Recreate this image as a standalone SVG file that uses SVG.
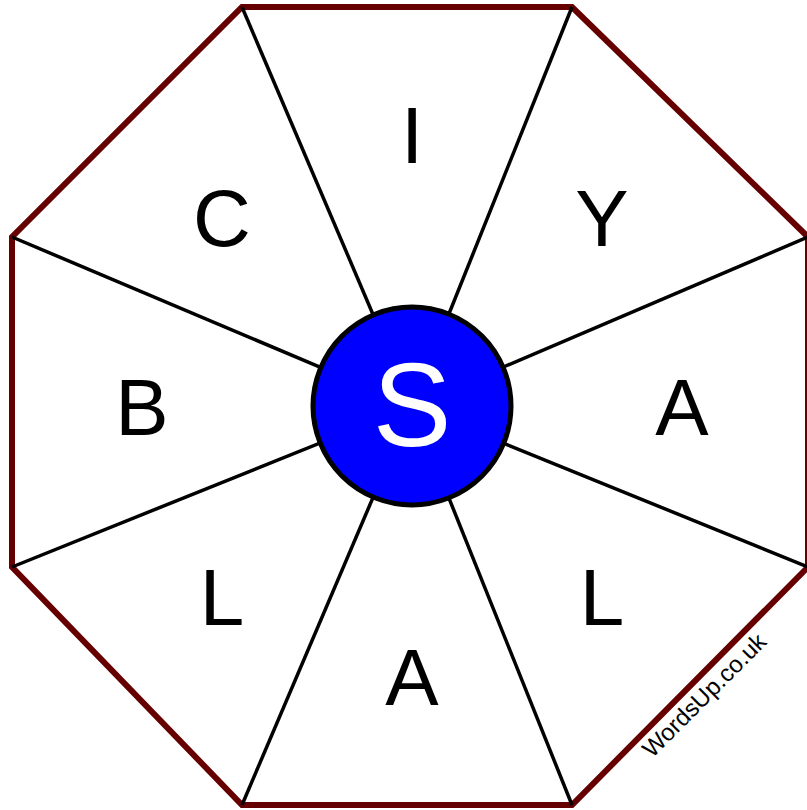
<svg xmlns="http://www.w3.org/2000/svg" width="807" height="810" viewBox="0 0 807 810">
<style>
.spoke{stroke:#000;stroke-width:3.5;fill:none}
.letter{font-family:"Liberation Sans",Arial,sans-serif;font-size:80px;text-anchor:middle;fill:#000}
.center{font-family:"Liberation Sans",Arial,sans-serif;font-size:118px;text-anchor:middle;fill:#fff}
.mark{font-family:"Liberation Sans",Arial,sans-serif;font-size:24px;text-anchor:middle;fill:#000}
</style>
<rect width="807" height="810" fill="#fff"/>
<g id="octagon">
<polygon points="242,7 572,7 808,237 808,567 572,805 242,805 12,567 12,237" fill="#fff" stroke="#660000" stroke-width="6" stroke-linejoin="miter"/>
</g>
<g id="connectors">
<line class="spoke" x1="412" y1="406" x2="242" y2="7"/>
<line class="spoke" x1="412" y1="406" x2="572" y2="7"/>
<line class="spoke" x1="412" y1="406" x2="808" y2="237"/>
<line class="spoke" x1="412" y1="406" x2="808" y2="567"/>
<line class="spoke" x1="412" y1="406" x2="572" y2="805"/>
<line class="spoke" x1="412" y1="406" x2="242" y2="805"/>
<line class="spoke" x1="412" y1="406" x2="12" y2="567"/>
<line class="spoke" x1="412" y1="406" x2="12" y2="237"/>
</g>
<g id="letter-I"><text class="letter" x="412" y="163">I</text></g>
<g id="letter-Y"><text class="letter" x="602" y="246">Y</text></g>
<g id="letter-A1"><text class="letter" x="682" y="435">A</text></g>
<g id="letter-L1"><text class="letter" x="602" y="625">L</text></g>
<g id="letter-A2"><text class="letter" x="412" y="705">A</text></g>
<g id="letter-L2"><text class="letter" x="222" y="625">L</text></g>
<g id="letter-B"><text class="letter" x="142" y="435">B</text></g>
<g id="letter-C"><text class="letter" x="222" y="246">C</text></g>
<g id="center-S">
<circle cx="412" cy="406" r="99" fill="#0000ff" stroke="#000" stroke-width="5"/>
<text class="center" x="412" y="446">S</text>
</g>
<g id="watermark"><text class="mark" transform="translate(710,701) rotate(-45)">WordsUp.co.uk</text></g>
</svg>
